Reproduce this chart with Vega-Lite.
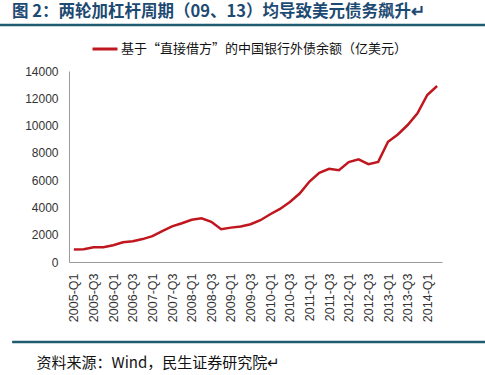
{
  "$schema": "https://vega.github.io/schema/vega-lite/v6.json",
  "width": 485,
  "height": 191,
  "autosize": {"type": "none"},
  "padding": {"top": 71, "bottom": 113, "left": 0, "right": 0},
  "config": {"view": {"stroke": null}, "font": "Noto Sans CJK SC"},
  "resolve": {"axis": {"y": "independent", "x": "independent"}, "scale": {"x": "independent"}},
  "title": {
    "text": "图 2：两轮加杠杆周期（09、13）均导致美元债务飙升↵",
    "anchor": "start",
    "align": "left",
    "frame": "group",
    "fontSize": 16.5,
    "fontWeight": "bold",
    "color": "#1d4a72",
    "font": "Noto Sans CJK SC",
    "dx": 12,
    "offset": 3
  },
  "layer": [
    {
      "data": {"values": [{"k": "title rule"}]},
      "mark": {"type": "rect", "color": "#1f5c70"},
      "encoding": {
        "x": {"datum": 0, "type": "quantitative", "scale": {"domain": [0, 1]}, "axis": null},
        "x2": {"datum": 1},
        "y": {"datum": 17464, "type": "quantitative", "axis": null},
        "y2": {"datum": 17280}
      }
    },
    {
      "data": {"values": [{"k": "source rule"}]},
      "mark": {"type": "rect", "color": "#1f5c70"},
      "encoding": {
        "x": {"datum": 0.025, "type": "quantitative", "scale": {"domain": [0, 1]}, "axis": null},
        "x2": {"datum": 1},
        "y": {"datum": -5772, "type": "quantitative", "axis": null},
        "y2": {"datum": -5956}
      }
    },
    {
      "data": {
        "values": [
          {"q": "2005-Q1", "v": 920}, {"q": "2005-Q2", "v": 930}, {"q": "2005-Q3", "v": 1080}, {"q": "2005-Q4", "v": 1080},
          {"q": "2006-Q1", "v": 1230}, {"q": "2006-Q2", "v": 1440}, {"q": "2006-Q3", "v": 1520}, {"q": "2006-Q4", "v": 1680},
          {"q": "2007-Q1", "v": 1900}, {"q": "2007-Q2", "v": 2270}, {"q": "2007-Q3", "v": 2610}, {"q": "2007-Q4", "v": 2840},
          {"q": "2008-Q1", "v": 3100}, {"q": "2008-Q2", "v": 3200}, {"q": "2008-Q3", "v": 2950}, {"q": "2008-Q4", "v": 2400},
          {"q": "2009-Q1", "v": 2520}, {"q": "2009-Q2", "v": 2600}, {"q": "2009-Q3", "v": 2770}, {"q": "2009-Q4", "v": 3060},
          {"q": "2010-Q1", "v": 3500}, {"q": "2010-Q2", "v": 3890}, {"q": "2010-Q3", "v": 4400}, {"q": "2010-Q4", "v": 5020},
          {"q": "2011-Q1", "v": 5900}, {"q": "2011-Q2", "v": 6540}, {"q": "2011-Q3", "v": 6830}, {"q": "2011-Q4", "v": 6730},
          {"q": "2012-Q1", "v": 7320}, {"q": "2012-Q2", "v": 7520}, {"q": "2012-Q3", "v": 7170}, {"q": "2012-Q4", "v": 7340},
          {"q": "2013-Q1", "v": 8810}, {"q": "2013-Q2", "v": 9350}, {"q": "2013-Q3", "v": 10040}, {"q": "2013-Q4", "v": 10900},
          {"q": "2014-Q1", "v": 12240}, {"q": "2014-Q2", "v": 12900}
        ]
      },
      "mark": {"type": "line", "strokeWidth": 2.5},
      "encoding": {
        "x": {
          "field": "q",
          "type": "ordinal",
          "sort": null,
          "scale": {"type": "point", "padding": 0.5, "range": [69, 442]},
          "axis": {
            "values": ["2005-Q1", "2005-Q3", "2006-Q1", "2006-Q3", "2007-Q1", "2007-Q3", "2008-Q1", "2008-Q3", "2009-Q1", "2009-Q3", "2010-Q1", "2010-Q3", "2011-Q1", "2011-Q3", "2012-Q1", "2012-Q3", "2013-Q1", "2013-Q3", "2014-Q1"],
            "labelAngle": -90,
            "ticks": false,
            "domainColor": "#9a9a9a",
            "labelFont": "Liberation Sans",
            "labelFontSize": 12.5,
            "labelColor": "#333333",
            "labelPadding": 11,
            "labelOverlap": false,
            "grid": false,
            "title": "资料来源：Wind，民生证券研究院↵",
            "titleFont": "Noto Sans CJK SC",
            "titleFontSize": 15,
            "titleFontWeight": "normal",
            "titleColor": "#111111",
            "titleAnchor": "start",
            "titleAlign": "left",
            "titleBaseline": "top",
            "titleX": 36,
            "titleY": 93
          }
        },
        "y": {
          "field": "v",
          "type": "quantitative",
          "scale": {"domain": [0, 14000], "nice": false},
          "axis": {
            "values": [0, 2000, 4000, 6000, 8000, 10000, 12000, 14000],
            "format": "d",
            "offset": -69,
            "ticks": false,
            "domainColor": "#9a9a9a",
            "labelFont": "Liberation Sans",
            "labelFontSize": 12,
            "labelColor": "#333333",
            "labelPadding": 11,
            "labelOverlap": false,
            "grid": false,
            "title": null
          }
        },
        "color": {
          "datum": "基于“直接借方”的中国银行外债余额（亿美元）",
          "type": "nominal",
          "scale": {"range": ["#c0161e"]},
          "legend": {
            "orient": "none",
            "legendX": 91,
            "legendY": -36,
            "title": null,
            "padding": 0,
            "symbolType": "stroke",
            "symbolSize": 625,
            "symbolStrokeWidth": 3,
            "labelOffset": 2,
            "labelLimit": 0,
            "labelFontSize": 13,
            "labelColor": "#111111",
            "labelFont": "Noto Sans CJK SC"
          }
        }
      }
    }
  ]
}
